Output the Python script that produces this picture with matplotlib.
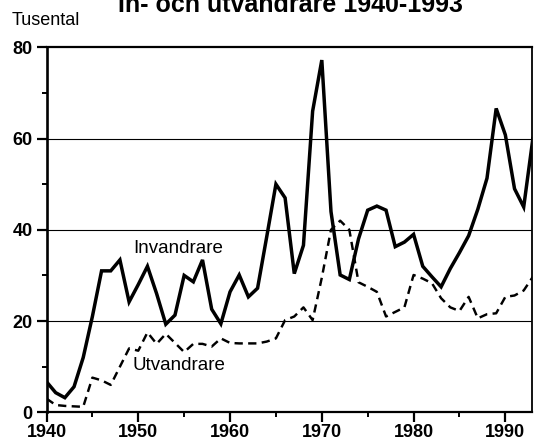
import matplotlib
matplotlib.use('Agg')
import matplotlib.pyplot as plt
from matplotlib.ticker import MultipleLocator

years = list(range(1940, 1994))
invandrare = [6.7, 4.3, 3.2, 5.6, 12.0, 21.0, 31.0, 31.0, 33.4, 24.2,
              28.0, 32.0, 26.0, 19.3, 21.3, 30.0, 28.6, 33.4, 22.6, 19.4,
              26.4, 30.1, 25.3, 27.2, 38.5, 50.0, 47.0, 30.4, 36.6, 66.0,
              77.2, 44.0, 30.1, 29.1, 38.0, 44.3, 45.2, 44.3, 36.3, 37.3,
              39.0, 32.0, 29.7, 27.5, 31.5, 35.0, 38.7, 44.5, 51.3, 66.6,
              60.8, 49.0, 45.0, 60.0]
utvandrare = [3.0, 1.6, 1.4, 1.3, 1.2, 7.6, 7.0, 6.0, 10.0, 14.0,
              13.5, 17.5, 15.0, 17.2, 15.2, 13.2, 15.0, 15.0, 14.4, 16.2,
              15.2, 15.1, 15.1, 15.1, 15.5, 16.2, 20.2, 21.0, 23.0, 20.2,
              29.5, 40.0, 42.0, 40.0, 28.5, 27.5, 26.4, 21.0, 22.0, 23.0,
              30.1, 29.3, 28.3, 25.0, 23.0, 22.2, 25.3, 20.6, 21.5, 21.7,
              25.3, 25.6, 26.7, 29.7]
x_ticks = [1940, 1950, 1960, 1970, 1980, 1990]
y_ticks = [0, 20, 40, 60, 80]

title = "In- och utvandrare 1940-1993"
unit_label = "Tusental"

plt.rcParams['font.family'] = ['Liberation Sans', 'DejaVu Sans']

fig = plt.figure(figsize=(5.34, 4.47), dpi=100)
ax = fig.add_axes([46.5 / 534, 34.7 / 447, 485 / 534, 365 / 447])

ax.plot(years, invandrare, color='black', lw=2.5, solid_joinstyle='miter', zorder=3)
ax.plot(years, utvandrare, color='black', lw=1.75, dashes=(3.4, 2.2), zorder=3)

ax.set_xlim(1940, 1992.85)
ax.set_ylim(0, 80)

for yv in [20, 40, 60]:
    ax.axhline(yv, color='black', lw=0.8, zorder=1)

ax.set_xticks(x_ticks)
ax.set_yticks(y_ticks)
ax.xaxis.set_minor_locator(MultipleLocator(5))
ax.yaxis.set_minor_locator(MultipleLocator(10))
ax.tick_params(axis='both', which='major', direction='out', length=7, width=1.6,
               labelsize=13)
ax.tick_params(axis='x', which='major', pad=1.5)
ax.tick_params(axis='y', which='major', pad=3)
ax.tick_params(axis='both', which='minor', direction='out', length=3.5, width=1.4)
for lab in ax.get_xticklabels() + ax.get_yticklabels():
    lab.set_fontweight('bold')

ax.spines['left'].set_linewidth(1.9)
ax.spines['bottom'].set_linewidth(1.6)
ax.spines['top'].set_linewidth(1.6)
ax.spines['right'].set_linewidth(1.3)

ax.text(1949.4, 36, "Invandrare", fontsize=13.5, ha='left', va='center')
ax.text(1949.4, 10.2, "Utvandrare", fontsize=13.5, ha='left', va='center')

fig.text(290 / 534, 1 - 11.7 / 447, title, fontsize=18, fontweight='bold',
         ha='center', va='baseline')
fig.text(11.7 / 534, 1 - 25 / 447, unit_label, fontsize=13, ha='left', va='baseline')

fig.savefig('out.png', dpi=100)
